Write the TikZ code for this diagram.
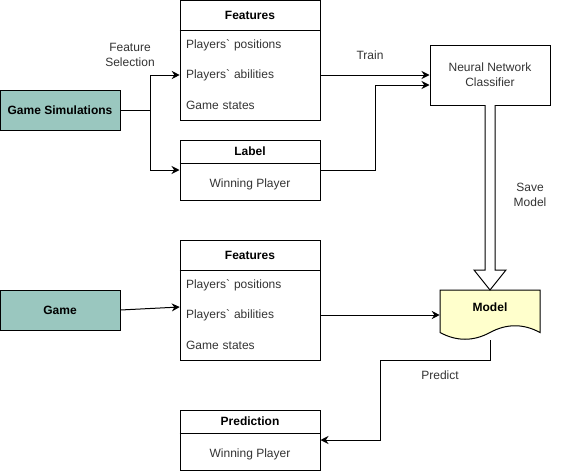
\documentclass[tikz,border=0pt]{standalone}
\usepackage{fontspec}
\setmainfont{Liberation Sans}
\usepackage{tikz}
\usetikzlibrary{arrows.meta}

\definecolor{simteal}{RGB}{154,199,191}
\definecolor{modelyellow}{RGB}{255,255,204}
\definecolor{txtgray}{RGB}{51,51,51}

\tikzset{
    every node/.style={font=\fontsize{9}{11}\selectfont},
    arr/.style={line width=0.75pt, -{Stealth[length=6pt,width=6pt]}},
    tablebox/.style={draw, line width=0.75pt, minimum width=105pt},
    hdrtext/.style={font=\fontsize{9}{11}\selectfont\bfseries},
    rowtext/.style={text=txtgray, minimum height=22.5pt, text width=96pt, inner xsep=4.5pt, inner ysep=0pt, align=left},
    srcbox/.style={draw, line width=0.75pt, fill=simteal, minimum width=90pt, minimum height=30pt, font=\fontsize{9}{11}\selectfont\bfseries},
    lbltext/.style={text=txtgray, align=center}
}

\begin{document}
\begin{tikzpicture}[x=0.75pt,y=0.75pt,yscale=-1,xscale=1]
        \useasboundingbox (0,0) rectangle (561,471);

        % training part
        \node [srcbox] (gamesim) at (60,110) {Game Simulations};
        \node [tablebox, minimum height=90pt] (feat1) at (250,60) {};
        \node [hdrtext] (feat1hdr) at (250,15) {Features};
        \draw [line width=0.75pt] (feat1.west |- 0,30) -- (feat1.east |- 0,30);
        \node [rowtext] (f1pos) at (250,45) {Players\textasciigrave{} positions};
        \node [rowtext] (f1abil) at (250,75) {Players\textasciigrave{} abilities};
        \node [rowtext] (f1state) at (250,105) {Game states};

        \node [tablebox, minimum height=45pt] (lbl) at (250,170) {};
        \node [hdrtext] (lblhdr) at (250,151.5) {Label};
        \draw [line width=0.75pt] (lbl.west |- 0,163) -- (lbl.east |- 0,163);
        \node [lbltext] (lblwin) at (250,184) {Winning Player};

        \node [draw, line width=0.75pt, minimum width=90pt, minimum height=45pt, align=center, text=txtgray] (nn) at (490,75) {Neural Network\\Classifier};

        \draw [arr] (gamesim.east) -- ++(30,0) coordinate (split) |- (f1abil.west);
        \draw [arr] (split) |- (lbl.west);
        \draw [arr] (f1abil.east) -- (nn.west);
        \draw [arr] (lbl.east) -- ++(55,0) |- ([yshift=7.5pt]nn.west);

        \node [lbltext] (selectlbl) at (130,55) {Feature\\Selection};
        \node [lbltext] (trainlbl) at (370,55) {Train};

        % model
        \node [minimum width=75pt, minimum height=37.5pt, inner sep=0pt] (model) at (490,315) {};
        \draw [line width=0.75pt, fill=modelyellow] (440,290) -- (540,290) -- (540,332.5)
            .. controls (523.3,323.5) and (506.7,323.5) .. (490,332.5)
            .. controls (473.3,341.5) and (456.7,341.5) .. (440,332.5) -- cycle;
        \node [hdrtext] (modeltxt) at (490,307) {Model};

        % save model
        \draw [line width=0.75pt, fill=white] (485,105) -- (485,270) -- (474,270) -- (490,290) -- (506,270) -- (495,270) -- (495,105);
        \node [lbltext] (savelbl) at (530,195) {Save\\Model};

        % prediction part
        \node [srcbox] (game) at (60,310) {Game};
        \node [tablebox, minimum height=90pt] (feat2) at (250,300) {};
        \node [hdrtext] (feat2hdr) at (250,255) {Features};
        \draw [line width=0.75pt] (feat2.west |- 0,270) -- (feat2.east |- 0,270);
        \node [rowtext] (f2pos) at (250,285) {Players\textasciigrave{} positions};
        \node [rowtext] (f2abil) at (250,315) {Players\textasciigrave{} abilities};
        \node [rowtext] (f2state) at (250,345) {Game states};

        \node [tablebox, minimum height=45pt] (pred) at (250,440) {};
        \node [hdrtext] (predhdr) at (250,421.5) {Prediction};
        \draw [line width=0.75pt] (pred.west |- 0,433) -- (pred.east |- 0,433);
        \node [lbltext] (predwin) at (250,454) {Winning Player};

        \draw [arr] (game.east) -- ([yshift=-6pt]f2abil.west);
        \draw [arr] (f2abil.east) -- (model.west);
        \draw [arr] (model.south) -- ++(0,20) -- ++(-110,0) |- (pred.east);
        \node [lbltext] (predictlbl) at (440,375) {Predict};
\end{tikzpicture}
\end{document}
